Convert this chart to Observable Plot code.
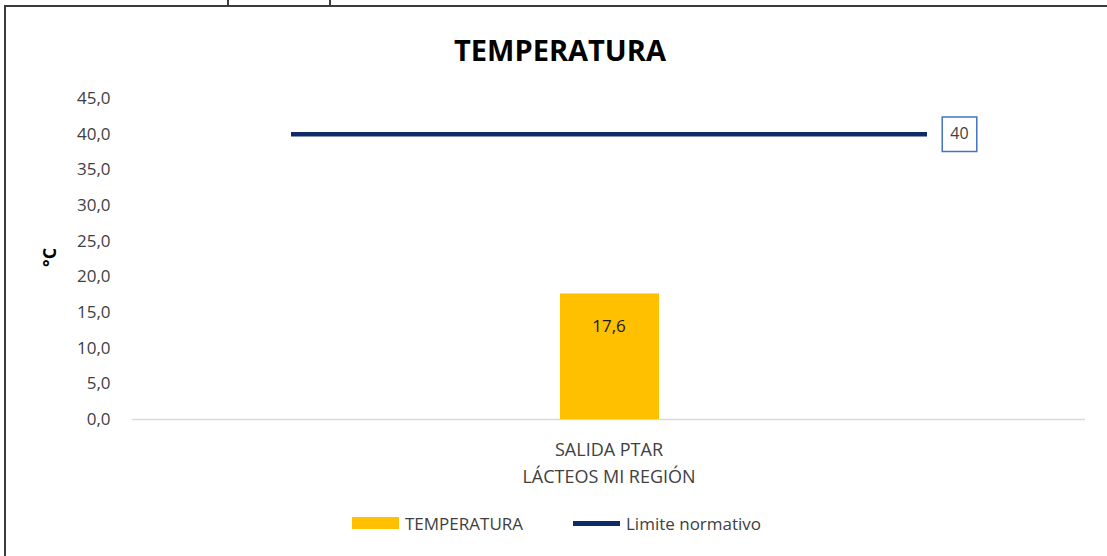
<!DOCTYPE html>
<html>
<head>
<meta charset="utf-8">
<script src="https://cdn.jsdelivr.net/npm/d3@7"></script>
<script src="https://cdn.jsdelivr.net/npm/@observablehq/plot@0.6"></script>
<style>
  body { margin: 0; background: #fff; font-family: "Open Sans", sans-serif; }
  #wrap { position: relative; width: 1107px; height: 556px; overflow: hidden; background: #fff; }
  #frame { position: absolute; left: 4px; top: 5px; width: 1120px; height: 570px; z-index: 5;
           border-left: 2px solid #3c3c3c; border-top: 2px solid #3c3c3c; box-sizing: border-box; pointer-events: none; }
  .nub { position: absolute; top: 0; width: 2px; height: 6px; background: #3c3c3c; z-index: 5; }
  #title { position: absolute; left: 0; top: 30px; width: 1120px; text-align: center;
           font-size: 29px; font-weight: bold; line-height: 40px; color: #000; }
  #chart { position: absolute; left: 0; top: 80px; }
  #legend { position: absolute; left: 0; top: 508px; height: 30px; width: 1107px;
            font-size: 17px; color: #404040; }
  .item { position: absolute; top: 0; height: 30px; display: flex; align-items: center; }
  .sw { display: inline-block; width: 47px; margin-right: 6px; }
</style>
</head>
<body>
<div id="wrap">
  <div id="frame"></div>
  <div class="nub" style="left:227px"></div>
  <div class="nub" style="left:329px"></div>
  <div id="title"></div>
  <div id="chart"></div>
  <div id="legend"></div>
</div>
<script>
const chartTitle = "TEMPERATURA";
const categories = ["SALIDA PTAR\nLÁCTEOS MI REGIÓN"];
const temperatura = [17.6];
const limiteNormativo = [40];
const yTicks = [0, 5, 10, 15, 20, 25, 30, 35, 40, 45];
const yLabel = "°C";
const seriesNames = ["TEMPERATURA", "Limite normativo"];
const seriesColors = ["#FFC000", "#0d2b6b"];

const data = categories.map((c, i) => ({cat: c, value: temperatura[i]}));
const fmt = d => d.toFixed(1).replace(".", ",");

document.getElementById("title").textContent = chartTitle;

const plot = Plot.plot({
  width: 1107,
  height: 410,
  marginTop: 18,
  marginBottom: 71,
  marginLeft: 132,
  marginRight: 22,
  style: {fontFamily: "Open Sans", fontSize: "17px", color: "#404040", background: "white"},
  x: {domain: categories, padding: 0, label: null},
  y: {domain: [0, 45], label: null},
  marks: [
    Plot.ruleY([0], {stroke: "#D9D9D9", strokeWidth: 1.5}),
    Plot.barY(data, {x: "cat", y: "value", fill: seriesColors[0], insetLeft: 428, insetRight: 426}),
    Plot.text(data, {x: "cat", y: "value", text: d => fmt(d.value), dy: 33, fill: "#1a1a1a", fontSize: 17}),
    Plot.ruleY(limiteNormativo, {y: d => d, stroke: seriesColors[1], strokeWidth: 4.5, insetLeft: 159, insetRight: 158}),
    Plot.dot(limiteNormativo, {y: d => d, frameAnchor: "right", dx: -126, symbol: "square", r: 19.5,
      stroke: "#4472C4", strokeWidth: 1.5, fill: "white"}),
    Plot.text(limiteNormativo, {y: d => d, frameAnchor: "right", textAnchor: "middle", dx: -126,
      text: d => String(d), fill: "#404040", fontSize: 16}),
    Plot.axisY({ticks: yTicks, tickFormat: fmt, tickSize: 0, tickPadding: 22, fontSize: 17, label: null}),
    Plot.axisX({tickSize: 0, tickPadding: 17, lineHeight: 1.5, fontSize: 18, label: null}),
    Plot.text([yLabel], {frameAnchor: "left", dx: -82, dy: 8, rotate: -90, text: d => d,
      fontWeight: "bold", fontSize: 18, fill: "#000"})
  ]
});
document.getElementById("chart").appendChild(plot);

const legend = document.getElementById("legend");
const lefts = [352, 573];
seriesNames.forEach((name, i) => {
  const item = document.createElement("div");
  item.className = "item";
  item.style.left = lefts[i] + "px";
  const sw = document.createElement("span");
  sw.className = "sw";
  sw.style.background = seriesColors[i];
  sw.style.height = i === 0 ? "12px" : "5px";
  item.appendChild(sw);
  const t = document.createElement("span");
  t.textContent = name;
  item.appendChild(t);
  legend.appendChild(item);
});
</script>
</body>
</html>
